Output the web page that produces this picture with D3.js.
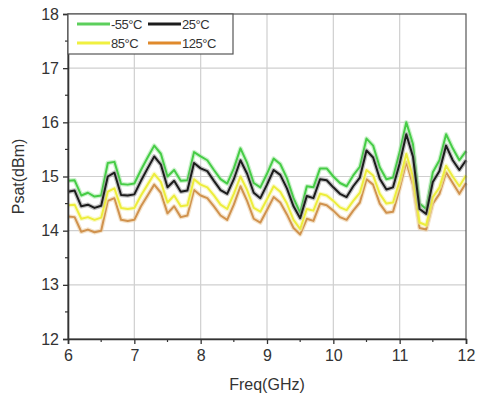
<!DOCTYPE html>
<html>
<head>
  <meta charset="utf-8">
  <title>Psat vs Freq</title>
  <style>
    body { margin: 0; background: #fff; }
    text { font-family: "Liberation Sans", Arial, sans-serif; }
  </style>
</head>
<body>
  <div id="plot"></div>

  <script src="https://cdn.jsdelivr.net/npm/d3@7"></script>
  <script>
    // frequency points (GHz)
    let freq = [6.0, 6.1, 6.2, 6.3, 6.4, 6.5, 6.6, 6.7, 6.8, 6.9,
                7.0, 7.1, 7.2, 7.3, 7.4, 7.5, 7.6, 7.7, 7.8, 7.9,
                8.0, 8.1, 8.2, 8.3, 8.4, 8.5, 8.6, 8.7, 8.8, 8.9,
                9.0, 9.1, 9.2, 9.3, 9.4, 9.5, 9.6, 9.7, 9.8, 9.9,
                10.0, 10.1, 10.2, 10.3, 10.4, 10.5, 10.6, 10.7, 10.8, 10.9,
                11.0, 11.1, 11.2, 11.3, 11.4, 11.5, 11.6, 11.7, 11.8, 11.9, 12.0];

    // Psat (dBm) per temperature
    let m55 = [14.92, 14.93, 14.65, 14.70, 14.63, 14.65, 15.25, 15.27, 14.86, 14.85,
               14.87, 15.12, 15.35, 15.57, 15.42, 15.00, 15.12, 14.92, 14.93, 15.45,
               15.37, 15.30, 15.12, 14.95, 14.87, 15.15, 15.52, 15.25, 14.88, 14.80,
               15.05, 15.33, 15.23, 14.97, 14.60, 14.33, 14.82, 14.80, 15.15, 15.15,
               15.00, 14.88, 14.82, 15.02, 15.18, 15.70, 15.57, 15.17, 14.95, 14.98,
               15.45, 16.00, 15.60, 14.50, 14.40, 15.08, 15.30, 15.78, 15.52, 15.30, 15.47];
    let t25 = [14.72, 14.74, 14.45, 14.48, 14.42, 14.46, 15.00, 15.07, 14.66, 14.65,
               14.67, 14.92, 15.15, 15.37, 15.22, 14.80, 14.92, 14.72, 14.74, 15.25,
               15.15, 15.10, 14.92, 14.75, 14.68, 14.95, 15.30, 15.05, 14.70, 14.60,
               14.85, 15.12, 15.03, 14.78, 14.45, 14.23, 14.64, 14.60, 14.95, 14.93,
               14.80, 14.68, 14.62, 14.82, 14.98, 15.48, 15.35, 14.96, 14.76, 14.80,
               15.24, 15.78, 15.37, 14.40, 14.31, 14.90, 15.10, 15.57, 15.30, 15.12, 15.30];
    let t85 = [14.47, 14.48, 14.22, 14.25, 14.20, 14.24, 14.72, 14.78, 14.42, 14.40,
               14.42, 14.65, 14.85, 15.05, 14.90, 14.52, 14.65, 14.45, 14.47, 14.95,
               14.85, 14.80, 14.65, 14.48, 14.40, 14.68, 15.00, 14.75, 14.42, 14.35,
               14.58, 14.82, 14.72, 14.50, 14.20, 14.03, 14.40, 14.37, 14.68, 14.65,
               14.55, 14.43, 14.38, 14.55, 14.70, 15.12, 15.02, 14.68, 14.50, 14.52,
               14.92, 15.42, 15.00, 14.15, 14.10, 14.62, 14.80, 15.20, 15.00, 14.82, 15.02];
    let t125 = [14.26, 14.25, 13.98, 14.02, 13.97, 14.00, 14.55, 14.60, 14.20, 14.18,
                14.20, 14.45, 14.65, 14.85, 14.70, 14.32, 14.45, 14.25, 14.28, 14.75,
                14.65, 14.60, 14.45, 14.28, 14.20, 14.48, 14.82, 14.55, 14.22, 14.15,
                14.38, 14.62, 14.52, 14.30, 14.05, 13.93, 14.22, 14.18, 14.50, 14.47,
                14.37, 14.25, 14.20, 14.37, 14.52, 14.95, 14.85, 14.50, 14.33, 14.35,
                14.78, 15.27, 14.85, 14.05, 14.02, 14.50, 14.68, 15.08, 14.88, 14.68, 14.88];

    let seriesNames = ['-55°C', '25°C', '85°C', '125°C'];
    let xTicks = [6, 7, 8, 9, 10, 11, 12];
    let yTicks = [12, 13, 14, 15, 16, 17, 18];

    function translate(x, y) {
      return 'translate(' + x + ',' + y + ')';
    }

    let svgWidth = 477;
    let svgHeight = 402;
    let margin = {top: 14, right: 11, bottom: 63, left: 68};
    let width = svgWidth - margin.left - margin.right;
    let height = svgHeight - margin.top - margin.bottom;

    let svg = d3.select('#plot')
      .append('svg')
        .attr('width', svgWidth)
        .attr('height', svgHeight)
        .append('g')
          .attr('transform', translate(margin.left, margin.top));

    let x = d3.scaleLinear().domain([6, 12]).range([0, width]);
    let y = d3.scaleLinear().domain([12, 18]).range([height, 0]);

    // grid
    svg.append('g')
      .selectAll('line.vg')
      .data(xTicks.slice(1, -1))
      .enter().append('line')
        .attr('x1', d => x(d)).attr('x2', d => x(d))
        .attr('y1', 0).attr('y2', height)
        .attr('stroke', '#cfcfcf').attr('stroke-width', 1.2);
    svg.append('g')
      .selectAll('line.hg')
      .data(yTicks.slice(1, -1))
      .enter().append('line')
        .attr('x1', 0).attr('x2', width)
        .attr('y1', d => y(d)).attr('y2', d => y(d))
        .attr('stroke', '#cfcfcf').attr('stroke-width', 1.2);

    // series
    let series = [
      {name: seriesNames[3], values: t125, color: '#d0924e', halo: '#ecd0a8'},
      {name: seriesNames[2], values: t85, color: '#eded3c', halo: '#f6f6a8'},
      {name: seriesNames[0], values: m55, color: '#46cc46', halo: '#a8eaa8'},
      {name: seriesNames[1], values: t25, color: '#1c1c1c', halo: '#9a9a9a'}
    ];

    let line = d3.line()
      .x((d, i) => x(freq[i]))
      .y(d => y(d));

    series.forEach(function (s) {
      svg.append('path')
        .datum(s.values)
        .attr('d', line)
        .attr('fill', 'none')
        .attr('stroke', s.halo)
        .attr('stroke-opacity', 0.6)
        .attr('stroke-width', 4.5)
        .attr('stroke-linejoin', 'round');
      svg.append('path')
        .datum(s.values)
        .attr('d', line)
        .attr('fill', 'none')
        .attr('stroke', s.color)
        .attr('stroke-width', 2)
        .attr('stroke-linejoin', 'round');
    });

    // frame
    svg.append('rect')
      .attr('x', 0).attr('y', 0)
      .attr('width', width).attr('height', height)
      .attr('fill', 'none')
      .attr('stroke', '#555').attr('stroke-width', 1.2);

    // axes
    let xAxis = d3.axisBottom(x).tickValues(xTicks).tickSize(5).tickPadding(6).tickFormat(d3.format('d'));
    let yAxis = d3.axisLeft(y).tickValues(yTicks).tickSize(5).tickPadding(4).tickFormat(d3.format('d'));

    let gx = svg.append('g')
      .attr('transform', translate(0, height))
      .call(xAxis);
    let gy = svg.append('g')
      .call(yAxis);

    [gx, gy].forEach(function (g) {
      g.select('.domain').attr('stroke', '#333').attr('stroke-width', 1.6);
      g.selectAll('.tick line').attr('stroke', '#333').attr('stroke-width', 1.3);
      g.selectAll('.tick text').attr('fill', '#333').style('font-size', '16px');
    });

    // minor ticks
    svg.append('g')
      .selectAll('line')
      .data(d3.range(6.5, 12, 1))
      .enter().append('line')
        .attr('x1', d => x(d)).attr('x2', d => x(d))
        .attr('y1', height).attr('y2', height + 3)
        .attr('stroke', '#333').attr('stroke-width', 1.2);
    svg.append('g')
      .selectAll('line')
      .data(d3.range(12.5, 18, 1))
      .enter().append('line')
        .attr('x1', -3).attr('x2', 0)
        .attr('y1', d => y(d)).attr('y2', d => y(d))
        .attr('stroke', '#333').attr('stroke-width', 1.2);

    // axis titles
    svg.append('text')
      .attr('x', width / 2)
      .attr('y', height + 51)
      .attr('text-anchor', 'middle')
      .attr('fill', '#333')
      .style('font-size', '16px')
      .text('Freq(GHz)');
    svg.append('text')
      .attr('transform', translate(-44, height / 2) + ' rotate(-90)')
      .attr('text-anchor', 'middle')
      .attr('fill', '#333')
      .style('font-size', '16px')
      .text('Psat(dBm)');

    // legend
    let legend = svg.append('g');
    legend.append('rect')
      .attr('x', 0).attr('y', 0)
      .attr('width', 165).attr('height', 40)
      .attr('fill', '#fff')
      .attr('stroke', '#555').attr('stroke-width', 1.2);

    let legendItems = [
      {name: seriesNames[0], color: '#5ccf5c', col: 0, row: 0},
      {name: seriesNames[1], color: '#1c1c1c', col: 1, row: 0},
      {name: seriesNames[2], color: '#f0f040', col: 0, row: 1},
      {name: seriesNames[3], color: '#e08a2c', col: 1, row: 1}
    ];
    let li = legend.selectAll('g.item')
      .data(legendItems)
      .enter().append('g')
        .attr('transform', d => translate(9 + d.col * 71, 10 + d.row * 19));
    li.append('line')
      .attr('x1', 0).attr('x2', 33)
      .attr('y1', 0).attr('y2', 0)
      .attr('stroke', d => d.color)
      .attr('stroke-width', 3);
    li.append('text')
      .attr('x', 34)
      .attr('y', 5)
      .attr('fill', '#333')
      .style('font-size', '13px')
      .style('letter-spacing', '-0.5px')
      .text(d => d.name);
  </script>
</body>
</html>
